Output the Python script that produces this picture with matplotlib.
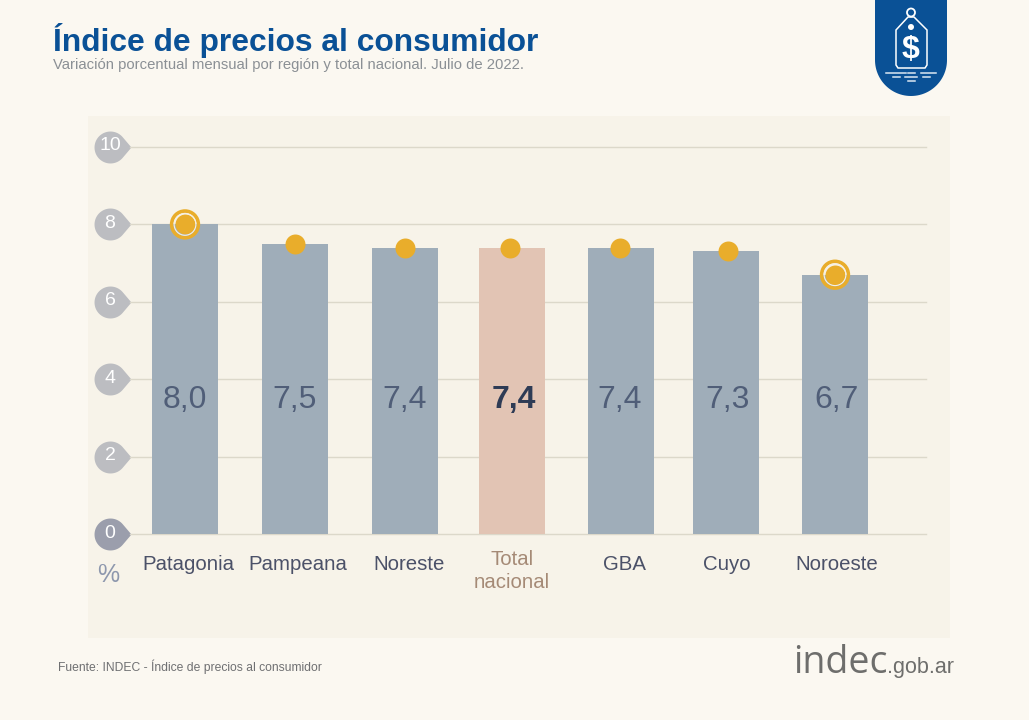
"""Indice de precios al consumidor, variacion mensual por region."""

import numpy as np
import matplotlib.pyplot as plt
from matplotlib.path import Path
from matplotlib.patches import Polygon, Rectangle, Circle
from matplotlib.transforms import ScaledTranslation

plt.rcParams['font.family'] = ['Liberation Sans', 'DejaVu Sans']

# Data
regions = ['Patagonia', 'Pampeana', 'Noreste', 'Total\nnacional', 'GBA', 'Cuyo', 'Noroeste']
values = [8.0, 7.5, 7.4, 7.4, 7.4, 7.3, 6.7]
value_labels = ['8,0', '7,5', '7,4', '7,4', '7,4', '7,3', '6,7']
y_ticks = [0, 2, 4, 6, 8, 10]
highlighted = [0, 6]  # max and min get a ring
total_idx = 3

# Layout, in pixels of the 1029x720 picture
bar_x = [185, 295, 405, 512, 621, 726, 835]
dot_x = [185, 295, 405, 510, 620, 728, 835]
label_x = [188, 298, 409, 512, 625, 727, 837]
label_pad = [31, 30, 31, 37, 31, 31, 31]
value_x = [185, 295, 405, 514, 620, 728, 837]
PLOT_L, PLOT_R, PLOT_T, PLOT_B = 130, 926, 147, 534

BG = '#fbf8f1'
PANEL = '#f7f3e9'
GRID = '#dcd8ca'
BLUE = '#0a5196'
BAR = '#9fadb9'
BAR_TOTAL = '#e2c4b4'
YELLOW = '#e9ad2b'
SLATE = '#505e78'

fig = plt.figure(figsize=(10.29, 7.2), dpi=100, facecolor=BG)

# Full figure layer in pixel coordinates for title, panel, logo and footer
deco = fig.add_axes([0, 0, 1, 1], zorder=0)
deco.set_xlim(0, 1029)
deco.set_ylim(720, 0)
deco.axis('off')

deco.add_patch(Rectangle((88, 116), 862, 522, facecolor=PANEL, edgecolor='none'))

deco.text(53, 40, 'Índice de precios al consumidor', color=BLUE, fontsize=22.9,
          fontweight='bold', va='center', ha='left')
deco.text(53, 65, 'Variación porcentual mensual por región y total nacional. Julio de 2022.',
          color='#8b9095', fontsize=10.7, va='center', ha='left')
deco.text(58, 667, 'Fuente: INDEC - Índice de precios al consumidor', color='#6f7072',
          fontsize=8.75, va='center', ha='left')

# indec.gob.ar
deco.text(793, 673, 'indec', color='#6e6e6c', fontsize=27, family='Open Sans',
          va='baseline', ha='left')
deco.text(887, 673, '.gob.ar', color='#6e6e6c', fontsize=15.5, va='baseline', ha='left')

# Badge with price tag
t = np.linspace(0, np.pi, 60)
badge = [(875, 0), (947, 0)] + list(zip(911 + 36 * np.cos(t), 60 + 36 * np.sin(t)))
deco.add_patch(Polygon(badge, closed=True, facecolor=BLUE, edgecolor='none'))
tag = [(908, 17), (896, 30), (896, 65), (898, 68), (925, 68), (927, 65), (927, 30), (914, 17)]
deco.add_patch(Polygon(tag, closed=True, facecolor='none', edgecolor='white', linewidth=1.1))
deco.add_patch(Circle((911, 12.5), 4, facecolor='none', edgecolor='white', linewidth=1.3))
deco.add_patch(Circle((911, 27), 3, facecolor='white', edgecolor='none'))
deco.text(911, 50, '$', color='white', fontsize=23, fontweight='bold', ha='center', va='center')
for y, x0, x1 in [(72.7, 886, 906), (72.7, 908, 915), (72.7, 921, 936),
                  (76.7, 893, 900), (76.7, 905, 917), (76.7, 923, 930),
                  (80.7, 908, 915)]:
    deco.plot([x0, x1], [y, y], color='#dce8f2', linewidth=1.1)

# Main axes, x axis runs in pixels so that the uneven spacing can be kept
ax = fig.add_axes([PLOT_L / 1029, 1 - PLOT_B / 720,
                   (PLOT_R - PLOT_L) / 1029, (PLOT_B - PLOT_T) / 720], zorder=1)
ax.patch.set_visible(False)
ax.set_xlim(PLOT_L, PLOT_R)
ax.set_ylim(0, 10)
ax.set_axisbelow(True)
for spine in ax.spines.values():
    spine.set_visible(False)

ax.set_yticks(y_ticks)
ax.set_yticklabels([str(v) for v in y_ticks])
ax.tick_params(axis='y', length=0, pad=14.4, labelcolor='white', labelsize=14)
lift = ScaledTranslation(0, 3 / 100, fig.dpi_scale_trans)
for lab in ax.get_yticklabels():
    lab.set_ha('center')
    lab.set_transform(lab.get_transform() + lift)
ax.grid(axis='y', color=GRID, linewidth=1)
for gl in ax.get_ygridlines():
    gl.set_clip_on(False)

# Drop shaped bubbles behind the y tick labels
ang = np.linspace(np.arccos(16 / 21), 2 * np.pi - np.arccos(16 / 21), 60)
drop = Path(np.vstack([[21, 0], np.column_stack([16 * np.cos(ang), 16 * np.sin(ang)]), [21, 0]]),
            closed=True)
bubble_x = (110 - PLOT_L) / (PLOT_R - PLOT_L)
for v in y_ticks:
    ax.plot([bubble_x], [v], marker=drop, markersize=30.2, linestyle='none',
            color='#9b9eac' if v == 0 else '#bcbdc1', markeredgewidth=0,
            transform=ax.get_yaxis_transform(), clip_on=False, zorder=0.1)

# Bars
bar_colors = [BAR_TOTAL if i == total_idx else BAR for i in range(len(values))]
ax.bar(bar_x, values, width=66, color=bar_colors, zorder=1)

# Dots, rings on the highest and lowest
ax.scatter(dot_x, values, s=207, color=YELLOW, linewidths=0, zorder=3, clip_on=False)
ring_x = [dot_x[i] for i in highlighted]
ring_y = [values[i] for i in highlighted]
ax.scatter(ring_x, ring_y, s=370, facecolors='none', edgecolors=YELLOW, linewidths=2.6,
           zorder=3, clip_on=False)
ax.scatter(ring_x, ring_y, s=245, facecolors='none', edgecolors='#f6f0e2', linewidths=0.8,
           zorder=3, clip_on=False)

# Values inside the bars
for i, (x, lab) in enumerate(zip(value_x, value_labels)):
    is_total = i == total_idx
    ax.text(x, 3.47, lab, ha='center', va='center', fontsize=23,
            color='#2e3b55' if is_total else SLATE,
            fontweight='bold' if is_total else 'normal', zorder=4)

# Region labels
ax.set_xticks(label_x)
ax.set_xticklabels(regions)
ax.tick_params(axis='x', length=0, labelsize=14.7, labelcolor='#4b5168')
for i, tick in enumerate(ax.xaxis.get_major_ticks()):
    tick.set_pad(label_pad[i] * 0.72)
    tick.label1.set_va('center')
    tick.label1.set_linespacing(1.3)
    if i == total_idx:
        tick.label1.set_color('#a58a76')

deco.text(108, 575, '%', color='#8d97ad', fontsize=18, ha='center', va='center')

fig.savefig('out.png', dpi=100, facecolor=BG)
